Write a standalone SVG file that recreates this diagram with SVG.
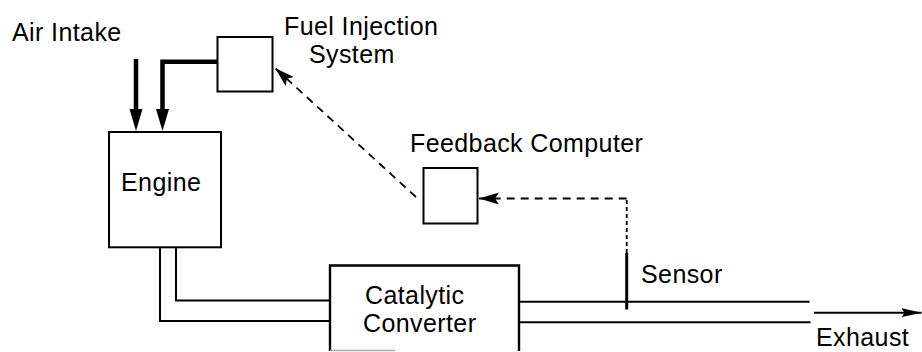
<svg xmlns="http://www.w3.org/2000/svg" width="922" height="352" viewBox="0 0 922 352">
  <style>
    .lbl { font-family: "Liberation Sans", Arial, sans-serif; font-size: 25px; fill: #000; letter-spacing: 0.4px; }
    .box { fill: #fff; stroke: #000; stroke-width: 2; }
    .pipe { fill: none; stroke: #000; stroke-width: 2; }
    .feed { fill: none; stroke: #000; stroke-width: 4.5; }
    .signal { fill: none; stroke: #000; stroke-width: 1.8; stroke-dasharray: 8 6; }
    .signal-fine { fill: none; stroke: #000; stroke-width: 1.8; stroke-dasharray: 4 3; }
  </style>
  <defs>
    <marker id="headThick" markerUnits="userSpaceOnUse" markerWidth="22" markerHeight="14" refX="12" refY="6.5" orient="auto">
      <path d="M0,0 L22,6.5 L0,13 Z" fill="#000"/>
    </marker>
    <marker id="headSignal" markerUnits="userSpaceOnUse" markerWidth="22" markerHeight="13" refX="20" refY="6" orient="auto">
      <path d="M0,0 L20,6 L0,12 L4,6 Z" fill="#000"/>
    </marker>
    <marker id="headFlow" markerUnits="userSpaceOnUse" markerWidth="20" markerHeight="10" refX="20" refY="4.5" orient="auto">
      <path d="M0,0 L20,4.5 L0,9 L3,4.5 Z" fill="#000"/>
    </marker>
  </defs>

  <!-- connectors -->
  <g id="connectors">
    <!-- air and fuel feeds into the engine -->
    <path class="feed" d="M136,59 V121" marker-end="url(#headThick)"/>
    <path class="feed" d="M217.5,61.7 H162.5 V121" marker-end="url(#headThick)"/>
    <!-- exhaust pipe: engine to converter -->
    <path class="pipe" d="M176,247.3 V300.5 H330"/>
    <path class="pipe" d="M160,247.3 V321 H330"/>
    <!-- exhaust pipe: converter outlet -->
    <path class="pipe" d="M519,301.7 H809.5"/>
    <path class="pipe" d="M519,322.3 H810.5"/>
    <path class="pipe" d="M814,312.7 H921.5" marker-end="url(#headFlow)"/>
    <!-- sensor probe -->
    <path d="M626.7,253 V309.5" stroke="#000" stroke-width="3" fill="none"/>
    <!-- sensor signal to feedback computer -->
    <path class="signal-fine" d="M626.7,253 V198.5"/>
    <path class="signal" d="M626.7,198.5 H479" marker-end="url(#headSignal)"/>
    <!-- control signal to fuel injection -->
    <path class="signal" d="M416,197 L275,68" marker-end="url(#headSignal)"/>
  </g>

  <g id="air-intake">
    <text class="lbl" x="12" y="40.5">Air Intake</text>
  </g>

  <g id="fuel-injection">
    <rect class="box" x="217.5" y="37" width="55" height="54.5"/>
    <text class="lbl" x="284" y="35">Fuel Injection</text>
    <text class="lbl" x="309" y="63">System</text>
  </g>

  <g id="engine">
    <rect class="box" x="109" y="132" width="112" height="115.3"/>
    <text class="lbl" x="121" y="191">Engine</text>
  </g>

  <g id="feedback-computer">
    <rect class="box" x="423.5" y="168" width="54" height="55.5"/>
    <text class="lbl" x="410" y="151.5">Feedback Computer</text>
  </g>

  <g id="catalytic-converter">
    <path d="M330,351 V265.5 H519 V351" fill="#fff" stroke="#000" stroke-width="2.4"/>
    <path d="M330,350.5 H395" stroke="#aaa" stroke-width="1.5"/>
    <text class="lbl" x="365" y="303.5">Catalytic</text>
    <text class="lbl" x="363" y="331.5">Converter</text>
  </g>

  <g id="sensor">
    <text class="lbl" x="641" y="283">Sensor</text>
  </g>

  <g id="exhaust">
    <text class="lbl" x="816" y="346">Exhaust</text>
  </g>
</svg>
